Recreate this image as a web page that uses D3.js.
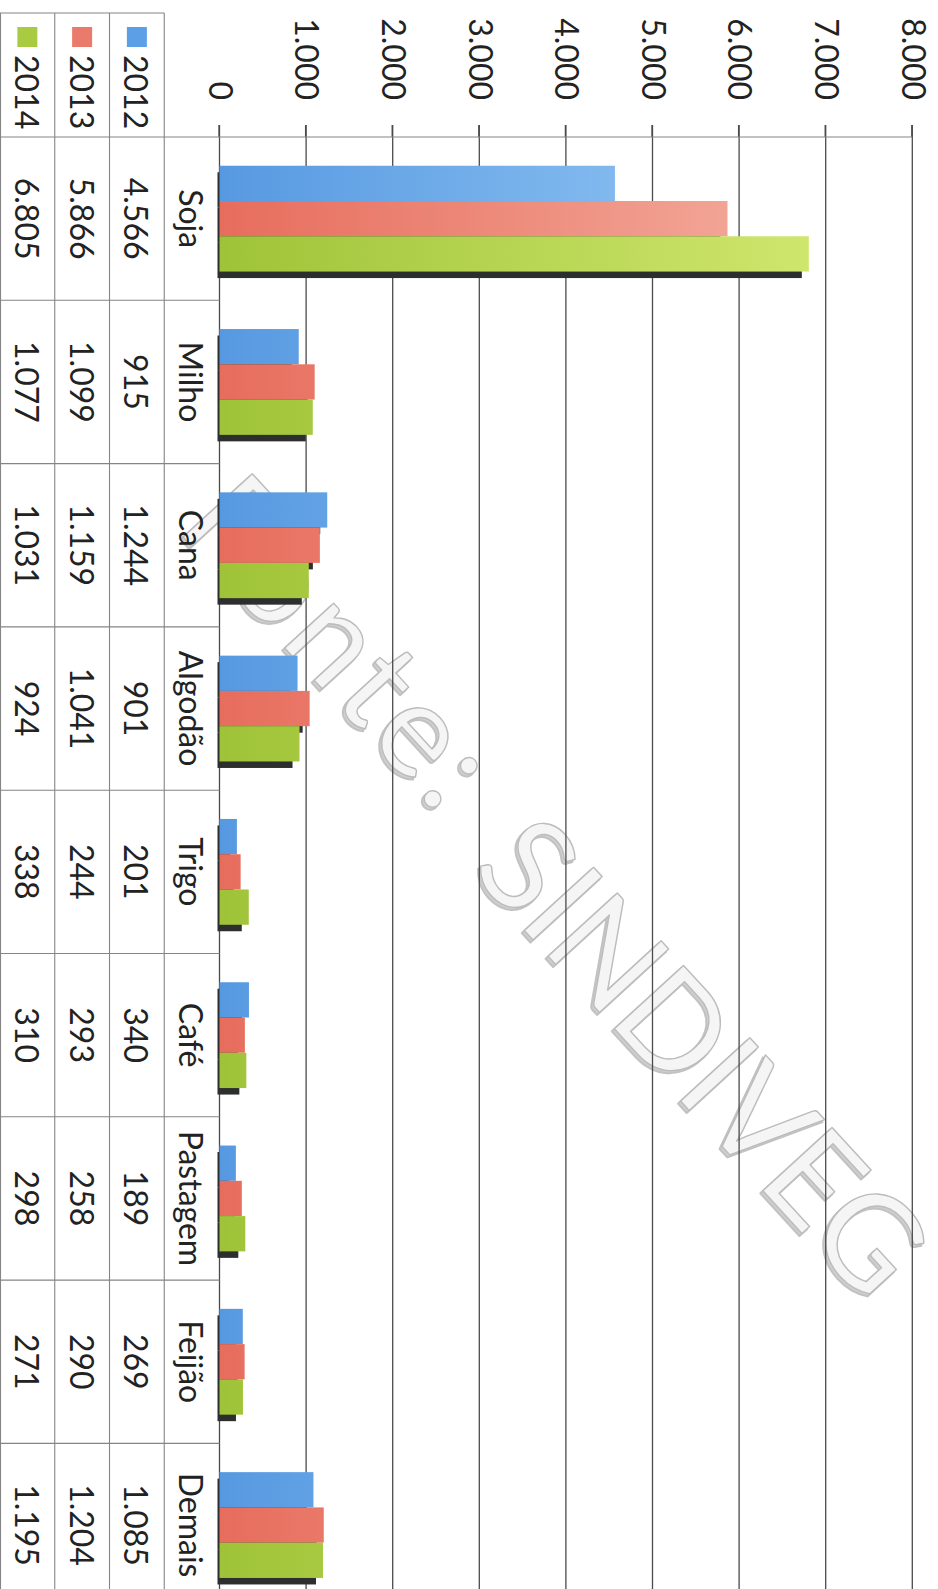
<!DOCTYPE html>
<html>
<head>
<meta charset="utf-8">
<script src="https://cdn.jsdelivr.net/npm/d3@7"></script>
<style>
  html, body { margin: 0; padding: 0; background: #fff; }
  svg { display: block; }
</style>
</head>
<body>
<script>
// ---- data ----
const categories = ["Soja", "Milho", "Cana", "Algodão", "Trigo", "Café", "Pastagem", "Feijão", "Demais"];
const years = ["2012", "2013", "2014"];
const values2012 = [4566, 915, 1244, 901, 201, 340, 189, 269, 1085];
const values2013 = [5866, 1099, 1159, 1041, 244, 293, 258, 290, 1204];
const values2014 = [6805, 1077, 1031, 924, 338, 310, 298, 271, 1195];
const tickValues = [0, 1000, 2000, 3000, 4000, 5000, 6000, 7000, 8000];
const watermarkParts = ["Fonte:", "SINDIVEG"];

const seriesValues = { "2012": values2012, "2013": values2013, "2014": values2014 };
const seriesColors = {
  "2012": ["#5799e1", "#97caf5", "#5c9fe6"],
  "2013": ["#e76d5d", "#f4ae9f", "#ea7a6c"],
  "2014": ["#9fc338", "#d0e76e", "#a9cb42"]
};

const W = 938, H = 1589;
const fmt = d3.formatLocale({ decimal: ",", thousands: ".", grouping: [3], currency: ["", ""] }).format(",");
const FONT = "Lato, 'Open Sans', sans-serif";

const svg = d3.select("body").append("svg").attr("width", W).attr("height", H);
svg.append("rect").attr("width", W).attr("height", H).attr("fill", "#fff");

// ---- watermark (screen coordinates, behind the chart) ----
const wmLayout = [
  { text: watermarkParts[0], cx: 344, cy: 638, len: 390 },
  { text: watermarkParts[1], cx: 706, cy: 1054, len: 590 }
];
const wm = svg.append("g");
[{ dx: -2.5, dy: 2.5, fill: "#cfcfcf", stroke: "#c2c2c2", sw: 2 },
 { dx: 0, dy: 0, fill: "#f5f5f5", stroke: "#bcbcbc", sw: 1.4 }].forEach(st => {
  wm.append("g").selectAll("text").data(wmLayout).join("text")
    .attr("transform", d => `translate(${d.cx + st.dx},${d.cy + st.dy}) rotate(47.5)`)
    .attr("text-anchor", "middle").attr("dominant-baseline", "central")
    .attr("font-family", FONT).attr("font-size", 131)
    .attr("textLength", d => d.len).attr("lengthAdjust", "spacing")
    .attr("fill", st.fill).attr("stroke", st.stroke).attr("stroke-width", st.sw)
    .attr("stroke-linejoin", "round")
    .text(d => d.text);
});

// ---- chart drawn in the original (unrotated) frame, then rotated 90° clockwise ----
const chart = svg.append("g").attr("transform", `translate(${W},0) rotate(90)`);
// original frame: width = H (1589), height = W (938)

const y = d3.scaleLinear().domain([0, 8000]).range([718.5, 25.7]);
const x0 = d3.scaleBand().domain(categories).range([137, 137 + 9 * 163.3]);
const bw = x0.bandwidth();
const x1 = d3.scaleBand().domain(years).range([bw * 0.176, bw * 0.824]);
const rows = d3.scaleBand().domain(["cat"].concat(years)).range([719, 938]);
const xEnd = x0.range()[1];

// gradients
const defs = svg.append("defs");
years.forEach(yr => {
  const g = defs.append("linearGradient").attr("id", "grad" + yr)
    .attr("gradientUnits", "userSpaceOnUse")
    .attr("x1", 0).attr("y1", y(0)).attr("x2", 0).attr("y2", y(7000));
  g.append("stop").attr("offset", 0).attr("stop-color", seriesColors[yr][0]);
  g.append("stop").attr("offset", 1).attr("stop-color", seriesColors[yr][1]);
});

const gridColor = "#4a4a4a";
const tableColor = "#858585";

// gridlines
chart.append("g").selectAll("line").data(tickValues).join("line")
  .attr("x1", 125).attr("x2", xEnd)
  .attr("y1", d => y(d)).attr("y2", d => y(d))
  .attr("stroke", gridColor).attr("stroke-width", 1.3);

// value axis labels
const axis = chart.append("g").attr("transform", "translate(137,0)")
  .call(d3.axisLeft(y).tickValues(tickValues).tickFormat(fmt).tickSizeInner(12).tickSizeOuter(0).tickPadding(25));
axis.select(".domain").remove();
axis.selectAll(".tick line").attr("stroke", gridColor).attr("stroke-width", 1.3);
axis.selectAll(".tick text").attr("font-family", FONT).attr("font-size", 32).attr("fill", "#222");

// value axis line / table border
chart.append("line").attr("x1", 137).attr("x2", 137).attr("y1", y(8000)).attr("y2", 938)
  .attr("stroke", tableColor).attr("stroke-width", 1.2);

// table row borders
const rowBounds = years.map(r => rows(r)).concat([937.5]);
chart.append("g").selectAll("line").data(rowBounds).join("line")
  .attr("x1", 13).attr("x2", xEnd)
  .attr("y1", d => d).attr("y2", d => d)
  .attr("stroke", tableColor).attr("stroke-width", 1.1);
// legend column top border
chart.append("line").attr("x1", 13).attr("x2", 13).attr("y1", rows(years[0])).attr("y2", 938)
  .attr("stroke", tableColor).attr("stroke-width", 1.1);
// category separators
chart.append("g").selectAll("line").data(categories.slice(1)).join("line")
  .attr("x1", d => x0(d)).attr("x2", d => x0(d))
  .attr("y1", y(0)).attr("y2", 938)
  .attr("stroke", tableColor).attr("stroke-width", 1.1);

// bar data
const barData = [];
categories.forEach((c, i) => years.forEach(yr => barData.push({ cat: c, year: yr, value: seriesValues[yr][i] })));

// shadows
chart.append("g").selectAll("rect").data(barData).join("rect")
  .attr("x", d => x0(d.cat) + x1(d.year) + 6.5)
  .attr("width", x1.bandwidth())
  .attr("y", d => y(d.value) + 7)
  .attr("height", d => (y(0) + 2) - (y(d.value) + 7))
  .attr("fill", "#2c2f2e");

// bars
chart.append("g").selectAll("rect").data(barData).join("rect")
  .attr("x", d => x0(d.cat) + x1(d.year))
  .attr("width", x1.bandwidth())
  .attr("y", d => y(d.value))
  .attr("height", d => y(0) - y(d.value))
  .attr("fill", d => `url(#grad${d.year})`);

// category labels
chart.append("g").selectAll("text").data(categories).join("text")
  .attr("x", d => x0(d) + bw / 2)
  .attr("y", rows("cat") + rows.bandwidth() / 2)
  .attr("text-anchor", "middle").attr("dominant-baseline", "central")
  .attr("font-family", FONT).attr("font-size", 32).attr("fill", "#222")
  .text(d => d);

// values
chart.append("g").selectAll("text").data(barData).join("text")
  .attr("x", d => x0(d.cat) + bw / 2)
  .attr("y", d => rows(d.year) + rows.bandwidth() / 2)
  .attr("text-anchor", "middle").attr("dominant-baseline", "central")
  .attr("font-family", FONT).attr("font-size", 32).attr("fill", "#222")
  .text(d => fmt(d.value));

// legend keys
const leg = chart.append("g").selectAll("g").data(years).join("g")
  .attr("transform", d => `translate(0,${rows(d) + rows.bandwidth() / 2})`);
leg.append("rect").attr("x", 27).attr("y", -10).attr("width", 20).attr("height", 20)
  .attr("fill", d => seriesColors[d][2]);
leg.append("text").attr("x", 55).attr("y", 0)
  .attr("dominant-baseline", "central")
  .attr("font-family", FONT).attr("font-size", 32).attr("fill", "#222")
  .text(d => d);
</script>
</body>
</html>
